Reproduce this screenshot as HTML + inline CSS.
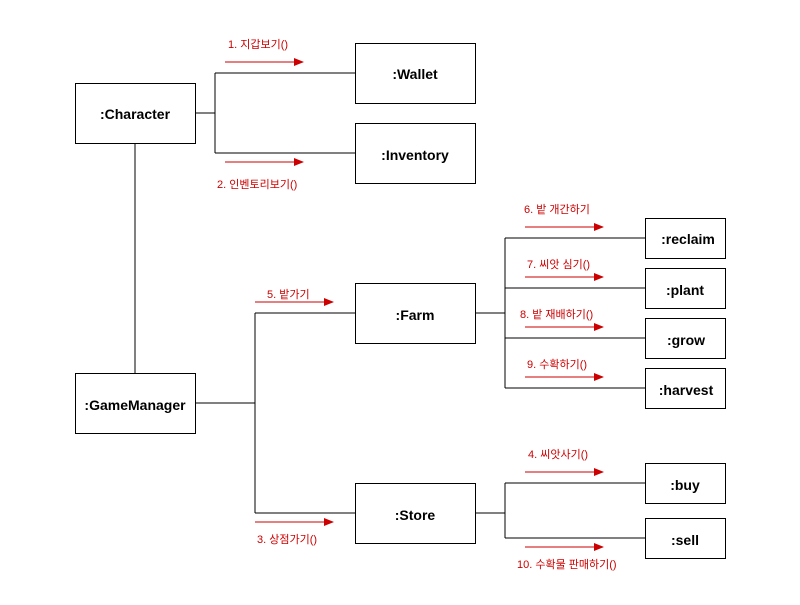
<!DOCTYPE html>
<html><head><meta charset="utf-8"><style>
html,body{margin:0;padding:0;background:#fff;}
svg text{font-family:"Liberation Sans","Noto Sans CJK KR",sans-serif;}
.b{font-size:14px;font-weight:bold;fill:#000;text-anchor:middle;}
.r{font-size:11px;fill:#cc0000;}
</style></head><body>
<svg width="800" height="600" viewBox="0 0 800 600" xmlns="http://www.w3.org/2000/svg">
<defs><marker id="a" markerWidth="10" markerHeight="8" refX="9" refY="4" orient="auto" markerUnits="userSpaceOnUse"><path d="M0,0 L10,4 L0,8 Z" fill="#cc0000"/></marker></defs>
<g fill="none" stroke="#000" stroke-width="1">
<path d="M195,113H215M215,73V153M215,73H355M215,153H355"/>
<path d="M135,143V373"/>
<path d="M195,403H255M255,313V513M255,313H355M255,513H355"/>
<path d="M475,313H505M505,238V388M505,238H645M505,288H645M505,338H645M505,388H645"/>
<path d="M475,513H505M505,483V538M505,483H645M505,538H645"/>
</g>
<g fill="#fff" stroke="#000" stroke-width="1">
<rect x="75.5" y="83.5" width="120" height="60"/>
<rect x="355.5" y="43.5" width="120" height="60"/>
<rect x="355.5" y="123.5" width="120" height="60"/>
<rect x="75.5" y="373.5" width="120" height="60"/>
<rect x="355.5" y="283.5" width="120" height="60"/>
<rect x="355.5" y="483.5" width="120" height="60"/>
<rect x="645.5" y="218.5" width="80" height="40"/>
<rect x="645.5" y="268.5" width="80" height="40"/>
<rect x="645.5" y="318.5" width="80" height="40"/>
<rect x="645.5" y="368.5" width="80" height="40"/>
<rect x="645.5" y="463.5" width="80" height="40"/>
<rect x="645.5" y="518.5" width="80" height="40"/>
</g>
<text class="b" x="135" y="119">:Character</text>
<text class="b" x="415" y="79">:Wallet</text>
<text class="b" x="415" y="160">:Inventory</text>
<text class="b" x="135" y="410">:GameManager</text>
<text class="b" x="415" y="320">:Farm</text>
<text class="b" x="415" y="520">:Store</text>
<text class="b" x="688" y="244">:reclaim</text>
<text class="b" x="685" y="295">:plant</text>
<text class="b" x="686" y="345">:grow</text>
<text class="b" x="686" y="395">:harvest</text>
<text class="b" x="685" y="490">:buy</text>
<text class="b" x="685" y="545">:sell</text>
<g stroke="#cc0000" stroke-width="1" marker-end="url(#a)">
<path d="M225,62H303"/><path d="M225,162H303"/>
<path d="M255,302H333"/><path d="M255,522H333"/>
<path d="M525,227H603"/><path d="M525,277H603"/><path d="M525,327H603"/><path d="M525,377H603"/>
<path d="M525,472H603"/><path d="M525,547H603"/>
</g>
<text class="r" x="228" y="48">1. 지갑보기()</text>
<text class="r" x="217" y="188">2. 인벤토리보기()</text>
<text class="r" x="267" y="298">5. 밭가기</text>
<text class="r" x="257" y="543">3. 상점가기()</text>
<text class="r" x="524" y="213">6. 밭 개간하기</text>
<text class="r" x="527" y="268">7. 씨앗 심기()</text>
<text class="r" x="520" y="318">8. 밭 재배하기()</text>
<text class="r" x="527" y="368">9. 수확하기()</text>
<text class="r" x="528" y="458">4. 씨앗사기()</text>
<text class="r" x="517" y="568">10. 수확물 판매하기()</text>
</svg>
</body></html>
